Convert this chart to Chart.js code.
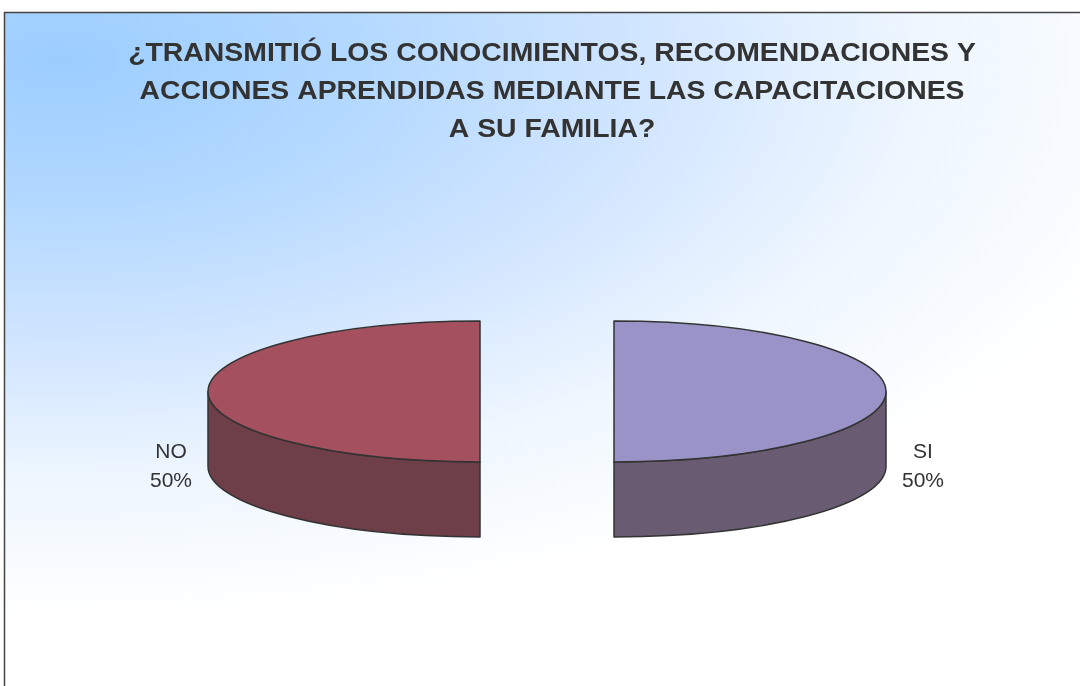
<!DOCTYPE html>
<html>
<head>
<meta charset="utf-8">
<script src="https://cdn.jsdelivr.net/npm/chart.js@4.4.0/dist/chart.umd.min.js"></script>
<style>
  html, body { margin: 0; padding: 0; background: #fff; }
  canvas { display: block; }
</style>
</head>
<body>
<canvas id="pieChart" width="1080" height="686"></canvas>
<script>
'use strict';

// --- Data ---
const titleLines = [
  '¿TRANSMITIÓ LOS CONOCIMIENTOS, RECOMENDACIONES Y',
  'ACCIONES APRENDIDAS MEDIANTE LAS CAPACITACIONES',
  'A SU FAMILIA?'
];
const categories = ['NO', 'SI'];
const answers = [50, 50];
const topColors = ['#a4505e', '#9a93c7'];
const sideColors = ['#6e3f48', '#695c72'];

// --- 3D look ---
const TILT = 0.259;      // vertical squash of the pie
const DEPTH = 75;        // thickness of the pie
const LABEL_GAP = 37;
const FONT = "'Liberation Sans', Arial, sans-serif";
const TAU = Math.PI * 2;

// --- Background with gradient and frame ---
const backgroundFrame = {
  id: 'backgroundFrame',
  beforeDraw(chart) {
    const { ctx, width, height } = chart;
    ctx.save();
    ctx.fillStyle = '#fff';
    ctx.fillRect(0, 0, width, height);
    ctx.save();
    ctx.beginPath();
    ctx.rect(4, 12, width - 4, height - 12);
    ctx.clip();
    ctx.translate(60, 60);
    ctx.scale(1, 0.487);
    const g = ctx.createRadialGradient(0, 0, 0, 0, 0, 1150);
    g.addColorStop(0, '#9ccdff');
    g.addColorStop(0.25, '#b2d8ff');
    g.addColorStop(0.5, '#d0e5ff');
    g.addColorStop(0.75, '#eef6ff');
    g.addColorStop(1, '#ffffff');
    ctx.fillStyle = g;
    ctx.fillRect(-200, -300, 1600, 2000);
    ctx.restore();
    ctx.strokeStyle = '#444';
    ctx.lineWidth = 1.5;
    ctx.beginPath();
    ctx.moveTo(4.5, height);
    ctx.lineTo(4.5, 12.5);
    ctx.lineTo(width, 12.5);
    ctx.stroke();
    ctx.restore();
  }
};

// --- Title (slightly stretched, like the original) ---
const wideTitle = {
  id: 'wideTitle',
  afterDraw(chart) {
    const ctx = chart.ctx;
    ctx.save();
    ctx.fillStyle = '#333';
    ctx.font = 'bold 25px ' + FONT;
    ctx.textAlign = 'center';
    ctx.textBaseline = 'middle';
    titleLines.forEach((line, i) => {
      ctx.save();
      ctx.translate(552, 54 + i * 38);
      ctx.scale(1.135, 1);
      ctx.fillText(line, 0, 0);
      ctx.restore();
    });
    ctx.restore();
  }
};

// front part of the rim (canvas angles 0..PI) that falls inside a slice
function frontRanges(start, end) {
  const k = Math.floor(start / TAU);
  const s = start - k * TAU, e = end - k * TAU;
  const out = [];
  [[0, Math.PI], [TAU, TAU + Math.PI]].forEach(([a, b]) => {
    const lo = Math.max(a, s), hi = Math.min(b, e);
    if (hi > lo) out.push([lo, hi]);
  });
  return out;
}

// --- 3D pie drawn from the arc elements ---
const pie3d = {
  id: 'pie3d',
  beforeDatasetsDraw(chart) {
    const ctx = chart.ctx;
    const meta = chart.getDatasetMeta(0);
    const data = chart.data.datasets[0].data;
    const total = data.reduce((a, b) => a + b, 0);
    const slices = meta.data.map((arc, i) => {
      const p = arc.getProps(['x', 'y', 'startAngle', 'endAngle', 'outerRadius'], true);
      const off = arc.options.offset || 0;
      const mid = (p.startAngle + p.endAngle) / 2;
      return {
        i, mid, r: p.outerRadius, start: p.startAngle, end: p.endAngle,
        cx: p.x + Math.cos(mid) * off,
        cy: p.y + Math.sin(mid) * off * TILT
      };
    });

    ctx.save();
    ctx.lineWidth = 1.5;
    ctx.strokeStyle = '#333';
    ctx.lineJoin = 'round';

    // sides
    slices.forEach(s => {
      const ry = s.r * TILT;
      frontRanges(s.start, s.end).forEach(([a, b]) => {
        ctx.beginPath();
        ctx.ellipse(s.cx, s.cy, s.r, ry, 0, a, b);
        ctx.lineTo(s.cx + Math.cos(b) * s.r, s.cy + DEPTH + Math.sin(b) * ry);
        ctx.ellipse(s.cx, s.cy + DEPTH, s.r, ry, 0, b, a, true);
        ctx.closePath();
        ctx.fillStyle = sideColors[s.i];
        ctx.fill();
        ctx.stroke();
      });
    });

    // top faces
    slices.forEach(s => {
      const ry = s.r * TILT;
      ctx.beginPath();
      ctx.moveTo(s.cx, s.cy);
      ctx.ellipse(s.cx, s.cy, s.r, ry, 0, s.start, s.end);
      ctx.closePath();
      ctx.fillStyle = topColors[s.i];
      ctx.fill();
      ctx.stroke();
    });

    // labels
    ctx.fillStyle = '#333';
    ctx.font = '21px ' + FONT;
    ctx.textAlign = 'center';
    ctx.textBaseline = 'middle';
    slices.forEach(s => {
      const lx = s.cx + Math.cos(s.mid) * (s.r + LABEL_GAP);
      const ly = s.cy + Math.sin(s.mid) * s.r * TILT + DEPTH;
      const pct = Math.round(data[s.i] / total * 100) + '%';
      ctx.fillText(chart.data.labels[s.i], lx, ly - 14.5);
      ctx.fillText(pct, lx, ly + 14.5);
    });
    ctx.restore();
    return false;
  }
};

// --- Chart Setup ---
const canvas = document.getElementById('pieChart');
new Chart(canvas.getContext('2d'), {
  type: 'pie',
  data: {
    labels: categories,
    datasets: [{
      data: answers,
      backgroundColor: topColors,
      borderWidth: 0,
      offset: 67
    }]
  },
  options: {
    responsive: false,
    animation: false,
    radius: 272,
    rotation: 180,
    layout: { padding: { left: 14, right: 0, top: 147, bottom: 50 } },
    plugins: {
      legend: { display: false },
      tooltip: { enabled: false },
      title: { display: false }
    }
  },
  plugins: [backgroundFrame, pie3d, wideTitle]
});
</script>
</body>
</html>
